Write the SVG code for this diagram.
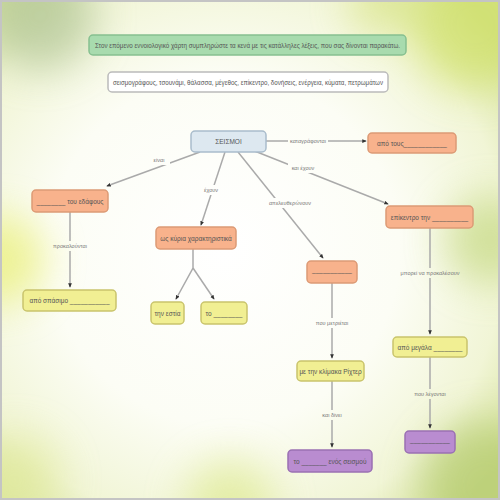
<svg xmlns="http://www.w3.org/2000/svg" width="500" height="500" viewBox="0 0 500 500">
<defs>
<radialGradient id="bg" cx="0.45" cy="0.5" r="0.7">
<stop offset="0" stop-color="#ffffff"/>
<stop offset="0.5" stop-color="#fcfdf5"/>
<stop offset="0.8" stop-color="#f1f5d6"/>
<stop offset="1" stop-color="#d6e39c"/>
</radialGradient>
<filter id="blur" x="-50%" y="-50%" width="200%" height="200%"><feGaussianBlur stdDeviation="20"/></filter>
<marker id="arr" viewBox="0 0 6 6" refX="5" refY="3" markerWidth="3" markerHeight="3" orient="auto">
<path d="M0,0.5 L6,3 L0,5.5 z" fill="#333"/>
</marker>
<mask id="lm">
<rect width="500" height="500" fill="#fff"/>
<rect x="288" y="136" width="40" height="10" fill="#000"/>
<rect x="148" y="155" width="22" height="10" fill="#000"/>
<rect x="49" y="241" width="42" height="10" fill="#000"/>
<rect x="200" y="185" width="22" height="10" fill="#000"/>
<rect x="268" y="198" width="44" height="10" fill="#000"/>
<rect x="288" y="163" width="30" height="10" fill="#000"/>
<rect x="313" y="318" width="38" height="10" fill="#000"/>
<rect x="316" y="410" width="32" height="10" fill="#000"/>
<rect x="400" y="268" width="60" height="10" fill="#000"/>
<rect x="411" y="389" width="38" height="10" fill="#000"/>
</mask>
</defs>
<style>
.box{stroke-width:1.5}
.t{font-family:"Liberation Sans",Arial,sans-serif;font-size:6.5px;fill:#555;text-anchor:middle}
.lbl{font-family:"Liberation Sans",Arial,sans-serif;font-size:5.5px;fill:#777;text-anchor:middle}
.or{fill:#f8b28c;stroke:#dc9a75}
.ye{fill:#f1ef93;stroke:#c9c46c}
.pu{fill:#b98cd0;stroke:#9a70b3}
.ln{stroke:#aaa;stroke-width:1.5;fill:none}
</style>
<rect width="500" height="500" fill="url(#bg)"/>
<g filter="url(#blur)" opacity="0.65">
<circle cx="40" cy="15" r="55" fill="#a9bf8c"/>
<circle cx="475" cy="25" r="65" fill="#cfe060"/>
<circle cx="0" cy="260" r="45" fill="#e8ee6a"/>
<circle cx="490" cy="240" r="45" fill="#c1d67a"/>
<circle cx="485" cy="485" r="65" fill="#b0c868"/>
<circle cx="230" cy="505" r="45" fill="#dce88a"/>
<circle cx="15" cy="480" r="45" fill="#dfe894"/>
<circle cx="380" cy="5" r="30" fill="#d6e27c"/>
</g>
<rect x="1" y="1" width="498" height="498" fill="none" stroke="#c4c4c4" stroke-width="2"/>

<g id="title"><rect x="89" y="35" width="317" height="20" rx="4" fill="#a8dbae" stroke="#86c090" class="box"/>
<text class="t" x="247.5" y="47.5" font-size="6" textLength="305" lengthAdjust="spacingAndGlyphs">Στον επόμενο εννοιολογικό χάρτη συμπληρώστε τα κενά με τις κατάλληλες λέξεις, που σας δίνονται παρακάτω.</text></g>
<g id="words"><rect x="108" y="72" width="280" height="20" rx="4" fill="#fff" stroke="#bbb" class="box"/>
<text class="t" x="248" y="84.5" font-size="6" textLength="270" lengthAdjust="spacingAndGlyphs">σεισμογράφους, τσουνάμι, θάλασσα, μέγεθος, επίκεντρο, δονήσεις, ενέργεια, κύματα, πετρωμάτων</text></g>

<g id="connectors" mask="url(#lm)">
<path class="ln" d="M266,141 L366,141" marker-end="url(#arr)"/>
<path class="ln" d="M200,152 L107,186" marker-end="url(#arr)"/>
<path class="ln" d="M70,212 L70,287" marker-end="url(#arr)"/>
<path class="ln" d="M225,152 L201,225" marker-end="url(#arr)"/>
<path class="ln" d="M193,249 L193,268 L176,299" marker-end="url(#arr)"/>
<path class="ln" d="M193,268 L214,299" marker-end="url(#arr)"/>
<path class="ln" d="M238,152 L323,258" marker-end="url(#arr)"/>
<path class="ln" d="M332,283 L332,358" marker-end="url(#arr)"/>
<path class="ln" d="M332,381 L332,447" marker-end="url(#arr)"/>
<path class="ln" d="M252,150 L388,204" marker-end="url(#arr)"/>
<path class="ln" d="M430,228 L430,334" marker-end="url(#arr)"/>
<path class="ln" d="M430,357 L430,428" marker-end="url(#arr)"/>
</g>
<g id="edge-labels">
<text class="lbl" x="308" y="143">καταγράφονται</text>
<text class="lbl" x="159" y="162">είναι</text>
<text class="lbl" x="70" y="248">προκαλούνται</text>
<text class="lbl" x="211" y="192">έχουν</text>
<text class="lbl" x="290" y="205">απελευθερώνουν</text>
<text class="lbl" x="303" y="170">και έχουν</text>
<text class="lbl" x="332" y="325">που μετριέται</text>
<text class="lbl" x="332" y="417">και δίνει</text>
<text class="lbl" x="430" y="275">μπορεί να προκαλέσουν</text>
<text class="lbl" x="430" y="396">που λέγονται</text>
</g>

<g id="n-seismoi"><rect x="191" y="131" width="75" height="21" rx="4" fill="#dde8f0" stroke="#a9bccb" class="box"/><text class="t" x="228.5" y="144">ΣΕΙΣΜΟΙ</text></g>
<g id="n-apotous"><rect x="368" y="133" width="88" height="20" rx="4" class="or box"/><text class="t" x="412" y="145.5">από τους____________</text></g>
<g id="n-edafous"><rect x="32" y="190" width="76" height="22" rx="4" class="or box"/><text class="t" x="70" y="203.5">________ του εδάφους</text></g>
<g id="n-spasimo"><rect x="23" y="290" width="93" height="21" rx="4" class="ye box"/><text class="t" x="69.5" y="303">από σπάσιμο ___________</text></g>
<g id="n-xarakt"><rect x="156" y="227" width="80" height="22" rx="4" class="or box"/><text class="t" x="196" y="240.5">ως κύρια χαρακτηριστικά</text></g>
<g id="n-estia"><rect x="151" y="302" width="33" height="22" rx="4" class="ye box"/><text class="t" x="167.5" y="315.5">την εστία</text></g>
<g id="n-to"><rect x="201" y="302" width="46" height="22" rx="4" class="ye box"/><text class="t" x="224" y="315.5">το ________</text></g>
<g id="n-energeia"><rect x="307" y="261" width="50" height="22" rx="4" class="or box"/><text class="t" x="332" y="272">___________</text></g>
<g id="n-rixter"><rect x="297" y="361" width="67" height="20" rx="4" class="ye box"/><text class="t" x="330.5" y="373.5">με την κλίμακα Ρίχτερ</text></g>
<g id="n-megethos"><rect x="288" y="450" width="84" height="22" rx="4" class="pu box"/><text class="t" x="330" y="463.5">το _______ ενός σεισμού</text></g>
<g id="n-thalassa"><rect x="386" y="206" width="87" height="22" rx="4" class="or box"/><text class="t" x="429.5" y="219.5">επίκεντρο την __________</text></g>
<g id="n-kymata"><rect x="393" y="337" width="74" height="20" rx="4" class="ye box"/><text class="t" x="430" y="349.5">από μεγάλα ________</text></g>
<g id="n-tsounami"><rect x="405" y="431" width="50" height="22" rx="4" class="pu box"/><text class="t" x="430" y="442">___________</text></g>
</svg>
